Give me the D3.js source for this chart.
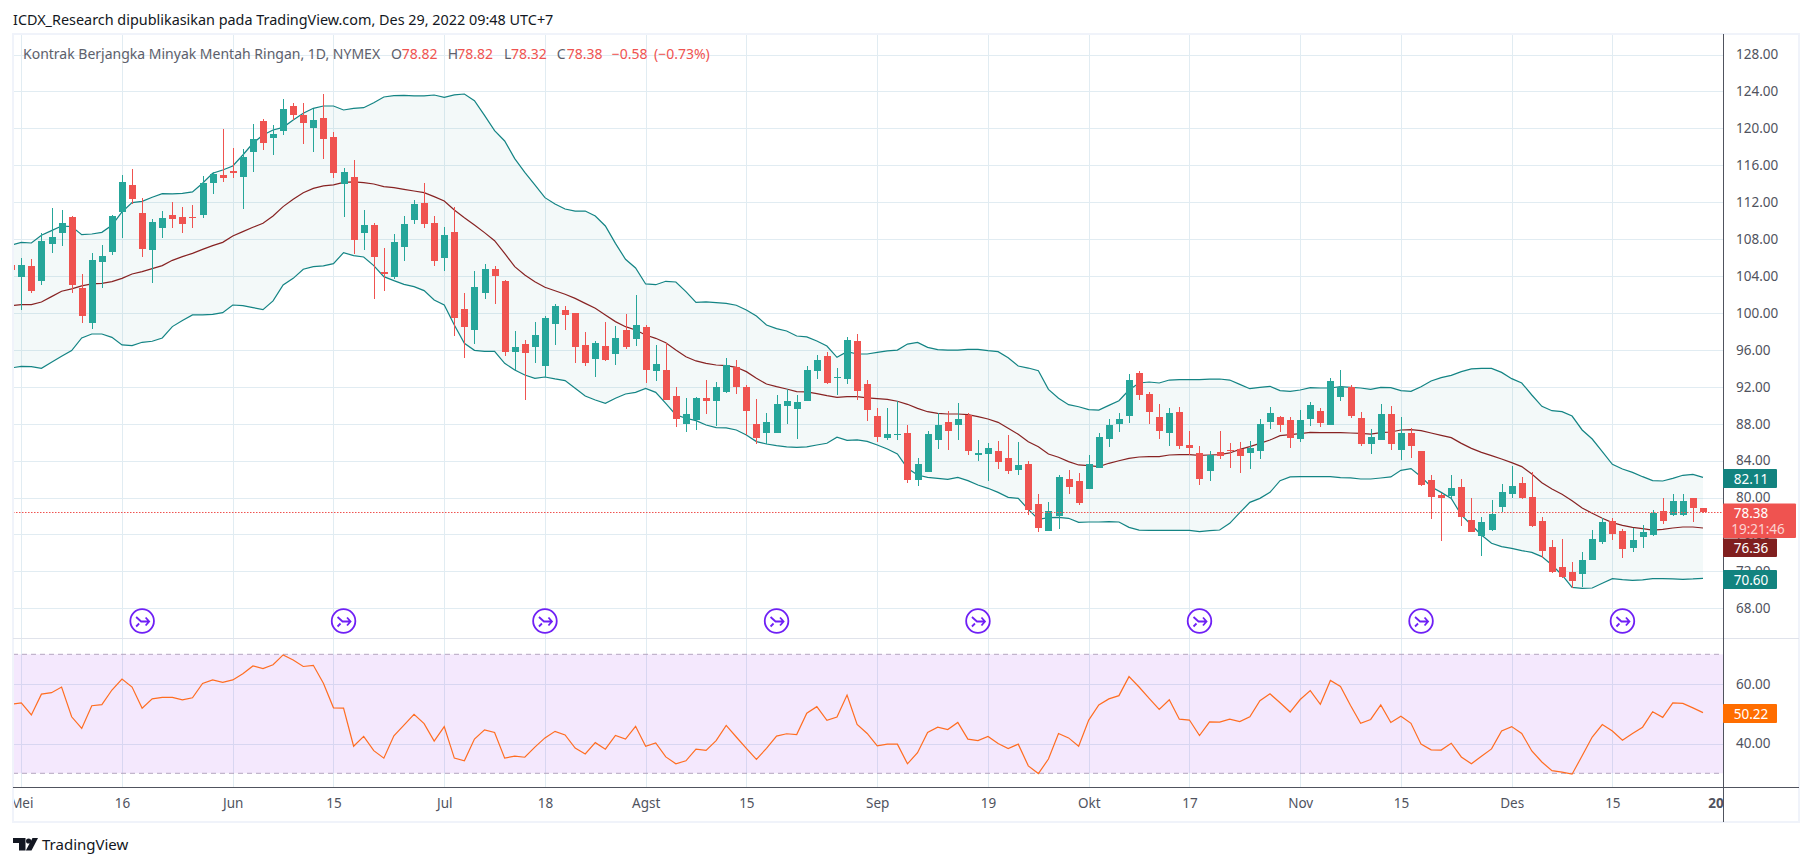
<!DOCTYPE html>
<html>
<head>
<meta charset="utf-8">
<title>Kontrak Berjangka Minyak Mentah Ringan</title>
<script src="https://cdn.jsdelivr.net/npm/d3@7"></script>
<style>
  html, body { margin: 0; padding: 0; background: #fff; }
  svg { display: block; }
  text { font-family: "Noto Sans", sans-serif; }
  .axis text { fill: #50535e; font-size: 13.5px; }
  .axis path, .axis line { display: none; }
  .legend text { font-size: 14px; }
  .badge { fill: #fff; font-size: 13.5px; text-anchor: middle; }
</style>
</head>
<body>
<svg id="chart" width="1813" height="866"></svg>
<script>

var opens = [
  105.20,103.89,105.09,103.46,107.47,108.66,110.40,102.70,98.91,105.52,
  106.60,110.94,113.86,110.83,106.82,109.21,110.61,110.40,110.40,110.61,
  114.08,114.95,115.38,114.73,117.44,120.80,118.96,119.71,122.42,121.45,
  120.04,121.12,119.06,113.97,114.73,108.66,109.53,104.44,103.89,107.15,
  110.07,111.91,109.75,105.95,108.77,100.43,98.15,102.16,104.76,103.46,
  95.77,96.64,96.31,94.25,98.80,100.32,100.00,96.53,95.01,96.42,
  95.55,98.15,97.18,98.48,93.71,93.82,91.00,87.97,88.40,90.79,
  90.46,91.44,94.14,91.98,87.97,87.00,87.00,89.92,89.60,90.46,
  93.71,95.34,92.95,92.85,96.96,92.30,88.84,86.45,86.78,86.99,
  81.90,82.77,86.23,88.18,87.86,88.98,84.61,84.72,85.04,84.28,
  82.98,83.63,79.30,76.38,78.00,82.01,81.79,80.93,83.20,86.34,
  87.97,88.83,93.49,91.22,88.73,86.99,89.27,85.69,84.83,82.88,
  84.93,85.15,85.26,84.83,85.04,88.18,88.73,88.40,86.34,88.51,
  89.38,87.86,90.89,91.98,88.62,85.80,86.23,89.05,85.15,86.99,
  85.04,81.90,80.28,80.17,81.14,77.57,75.83,76.48,78.98,80.38,
  81.58,80.06,77.46,74.64,72.48,71.93,71.72,73.23,75.18,77.46,
  76.38,74.53,75.73,75.94,78.54,78.11,78.11,79.95,78.82
];

var highs = [
  105.20,105.99,105.85,108.63,111.37,111.15,110.50,104.22,106.50,107.36,
  110.61,114.95,115.60,112.46,110.18,111.05,112.02,111.48,111.70,114.84,
  115.27,119.93,117.87,117.76,120.47,121.01,120.36,123.18,122.75,122.75,
  122.10,123.72,119.60,115.70,116.57,111.15,109.75,107.04,108.56,110.50,
  112.24,114.08,110.50,109.32,111.48,102.16,104.55,105.30,105.09,103.57,
  98.04,97.07,99.02,99.67,100.97,100.75,100.00,97.94,96.96,99.02,
  98.59,99.89,101.95,98.70,96.53,96.75,91.98,90.79,90.89,92.74,
  92.52,95.12,94.90,92.19,90.68,89.16,91.11,91.76,91.11,94.25,
  95.45,95.77,94.04,97.39,97.72,92.74,89.71,89.71,90.46,87.86,
  84.28,87.21,89.16,89.38,90.24,89.16,86.23,85.91,86.13,86.78,
  86.02,83.96,80.38,79.52,82.44,82.98,82.66,84.61,86.99,88.51,
  89.16,93.38,93.71,91.43,90.13,89.70,89.81,87.21,85.58,85.04,
  87.21,85.91,86.02,86.13,88.51,89.81,88.83,88.73,89.48,90.35,
  89.70,92.95,93.82,92.19,89.27,87.43,90.13,89.92,88.73,87.53,
  85.04,82.44,80.49,82.44,82.01,79.95,77.89,79.74,81.47,83.42,
  82.23,82.77,77.89,75.40,75.51,73.02,74.10,76.48,77.78,77.78,
  76.59,76.70,77.03,78.65,79.95,80.38,80.38,79.95,78.82
];

var lows = [
  104.65,100.32,102.20,103.03,106.50,107.25,102.16,98.91,98.26,102.70,
  106.28,108.12,111.81,106.06,103.25,108.12,109.21,108.66,109.21,110.29,
  112.89,114.19,114.62,111.26,115.27,117.66,117.11,119.28,120.90,118.31,
  117.44,116.68,114.62,110.40,106.39,106.82,101.51,102.38,103.68,105.63,
  109.64,109.21,105.09,104.55,97.51,95.12,96.64,101.51,100.97,95.34,
  93.82,90.57,94.58,93.10,96.53,98.15,94.58,94.25,93.06,94.79,
  94.36,96.10,96.42,92.41,92.63,90.57,87.65,87.10,87.32,89.05,
  87.75,91.33,91.22,86.78,85.80,85.80,87.00,87.97,86.35,90.46,
  92.85,92.30,91.11,92.30,90.57,88.30,86.02,86.24,86.23,81.58,
  81.25,82.77,85.26,85.15,86.23,84.61,83.96,81.79,83.09,82.55,
  82.44,78.11,76.27,76.38,76.59,80.38,79.19,80.93,83.20,85.48,
  87.10,88.08,90.57,87.97,86.34,85.58,85.26,84.61,81.36,81.79,
  84.18,83.20,82.66,83.09,84.18,87.43,87.10,85.37,86.02,87.75,
  87.64,87.86,90.46,88.62,85.58,84.72,86.23,85.15,84.07,84.28,
  81.25,77.68,75.29,79.95,76.92,76.27,73.67,76.38,78.43,79.95,
  79.84,76.81,73.45,71.83,71.28,70.20,70.31,73.23,74.97,75.40,
  73.45,74.10,74.53,75.83,77.13,78.00,78.00,77.35,78.32
];

var closes = [
  104.65,105.20,102.38,107.80,108.23,109.75,103.03,99.67,105.74,106.17,
  110.50,114.19,112.35,106.93,109.86,110.29,110.18,109.64,110.29,114.08,
  115.06,114.62,115.16,116.90,118.85,118.41,119.39,122.10,121.45,120.58,
  120.90,118.85,115.16,115.27,107.90,109.53,106.06,104.22,107.69,109.64,
  111.81,109.64,105.63,108.45,99.46,98.48,102.81,104.76,104.00,95.77,
  96.31,95.66,97.61,99.45,100.75,99.78,96.31,94.58,96.75,94.90,
  97.29,96.31,98.70,93.82,94.47,90.57,88.51,89.05,90.79,90.46,
  91.98,94.36,91.98,89.38,86.45,88.19,90.14,90.46,90.35,93.82,
  94.90,92.41,93.06,97.07,91.55,89.49,86.56,86.89,86.88,81.90,
  83.63,86.88,87.86,87.21,88.51,85.04,84.83,85.37,83.85,82.88,
  83.53,78.65,76.70,78.54,82.23,81.14,79.41,83.63,86.56,87.86,
  88.51,92.73,91.11,89.27,87.21,89.16,85.58,85.37,82.01,84.61,
  84.50,85.04,84.50,85.37,87.97,89.16,87.86,86.45,88.40,90.03,
  88.08,92.63,92.01,88.83,85.80,86.56,89.05,85.80,86.99,85.58,
  81.36,80.06,79.95,81.03,77.89,76.27,77.35,78.22,80.60,81.25,
  79.95,76.92,74.21,71.93,71.39,70.96,73.23,75.51,77.35,76.05,
  74.43,75.40,76.27,78.33,77.46,79.63,79.63,78.87,78.38
];

// Bollinger bands
var upper = [
  107.36,107.65,107.58,108.41,108.92,109.42,109.35,108.48,108.55,108.73,
  109.49,110.94,111.95,112.09,112.53,112.92,112.89,112.96,113.11,114.05,
  115.13,115.49,115.92,117.11,118.38,119.28,119.82,120.11,120.90,121.63,
  122.17,122.42,122.42,121.99,122.17,122.24,122.78,123.40,123.54,123.58,
  123.51,123.51,123.61,123.36,123.62,123.72,122.99,121.41,119.75,118.63,
  116.72,115.24,113.87,112.49,111.80,111.26,111.04,111.04,110.50,109.42,
  107.54,105.81,104.87,103.14,103.06,103.43,103.35,102.31,101.15,101.19,
  101.11,101.04,100.83,100.32,99.67,98.70,98.30,98.04,97.50,97.40,
  96.96,96.42,95.19,95.81,95.55,95.55,95.73,95.88,95.98,96.63,
  96.81,96.27,96.02,95.98,95.98,96.06,96.06,95.91,95.80,95.15,
  94.25,94.03,93.74,91.72,90.75,90.06,89.84,89.52,89.48,89.99,
  90.49,91.65,92.41,92.52,92.41,92.73,92.77,92.77,92.77,92.84,
  92.84,92.73,92.26,91.79,91.94,92.05,91.58,91.51,91.65,91.90,
  91.87,91.87,92.01,91.94,91.87,91.72,91.94,91.90,91.58,91.51,
  92.01,92.63,92.99,93.24,93.64,93.93,94.00,94.00,93.56,92.88,
  92.41,91.11,89.88,89.41,89.30,88.83,87.32,86.34,84.97,83.60,
  83.09,82.73,82.26,81.83,81.79,82.08,82.41,82.51,82.19
];

var basis = [
  100.79,100.90,100.90,101.19,101.77,102.35,102.60,102.93,103.14,103.21,
  103.39,103.75,104.22,104.48,104.80,105.13,105.70,106.10,106.46,106.89,
  107.29,107.65,108.34,108.81,109.28,109.71,110.50,111.52,112.31,113.03,
  113.50,113.76,113.87,114.15,114.19,114.12,113.97,113.68,113.57,113.39,
  113.21,113.03,112.60,112.13,111.15,110.32,109.53,108.70,107.83,106.46,
  105.01,104.11,103.39,102.78,102.41,102.02,101.58,101.04,100.50,99.78,
  99.06,98.51,98.15,97.61,97.25,96.78,95.99,95.26,94.80,94.54,
  94.36,94.29,94.11,93.64,92.92,92.30,92.01,91.76,91.47,91.44,
  91.26,91.04,90.86,90.93,90.93,90.79,90.71,90.64,90.43,90.10,
  89.66,89.30,89.12,89.05,89.05,88.98,88.76,88.51,88.15,87.50,
  86.85,86.05,85.51,84.72,84.36,83.89,83.53,83.45,83.35,83.71,
  83.99,84.25,84.39,84.43,84.43,84.61,84.65,84.65,84.57,84.61,
  84.65,84.83,85.22,85.51,85.87,86.23,86.70,86.81,86.92,87.06,
  87.03,87.03,87.03,86.99,86.96,86.88,87.03,87.10,87.32,87.35,
  87.25,86.99,86.74,86.49,85.87,85.33,84.90,84.54,84.18,83.78,
  83.35,82.55,81.61,80.93,80.35,79.66,78.87,78.29,77.75,77.28,
  76.99,76.77,76.63,76.48,76.56,76.70,76.81,76.81,76.70
];

var lower = [
  94.04,94.22,94.19,94.00,94.65,95.30,95.92,97.29,97.72,97.72,
  97.36,96.53,96.46,96.82,96.93,97.29,98.52,99.17,99.78,99.78,
  99.85,100.03,100.86,100.79,100.58,100.36,101.30,103.03,103.75,104.73,
  105.02,105.09,105.34,106.53,106.21,106.06,105.13,103.93,103.50,103.10,
  102.85,102.42,101.41,100.86,98.70,96.71,95.95,95.84,95.84,94.54,
  93.82,93.28,92.92,93.06,92.85,92.67,91.83,91.00,90.57,90.21,
  90.75,91.22,91.40,91.83,91.40,90.21,88.95,88.59,88.33,87.86,
  87.57,87.54,87.32,86.78,86.06,85.80,85.62,85.48,85.44,85.48,
  85.69,85.88,86.53,86.20,86.24,86.09,85.69,85.26,84.72,83.16,
  82.44,82.19,82.08,81.97,82.19,81.83,81.36,81.00,80.56,80.02,
  79.91,78.72,77.64,77.82,77.86,77.75,77.31,77.35,77.35,77.39,
  77.35,76.77,76.48,76.45,76.45,76.45,76.45,76.45,76.30,76.41,
  76.48,77.21,78.36,79.48,79.91,80.56,81.83,82.23,82.26,82.26,
  82.26,82.26,82.15,82.12,82.01,82.01,82.12,82.23,82.95,83.13,
  82.26,81.18,80.56,79.91,78.11,77.03,75.94,75.04,74.68,74.50,
  74.25,74.06,73.60,72.69,71.61,70.27,70.16,70.20,70.71,71.21,
  71.10,71.03,71.07,71.21,71.21,71.18,71.14,71.18,71.25
];

var rsi = [
  53.2,53.7,49.6,56.6,57.1,59.0,49.0,45.1,52.7,53.1,
  58.0,61.7,59.0,51.9,55.0,55.5,55.5,54.7,55.4,60.2,
  61.4,60.6,61.4,63.5,66.1,65.2,66.5,69.8,68.1,65.9,
  66.3,60.3,52.0,51.9,39.1,42.4,37.6,35.1,42.6,46.2,
  49.8,46.7,40.8,45.7,35.1,34.2,41.5,44.6,43.7,35.1,
  35.8,35.4,38.8,41.9,44.1,42.9,38.5,36.5,40.3,38.1,
  42.7,41.5,45.8,39.1,40.2,35.5,33.2,34.2,38.1,37.7,
  41.0,46.1,42.2,38.4,34.7,38.4,42.5,43.3,43.0,50.2,
  52.4,47.8,48.9,56.3,46.4,43.4,39.2,39.8,39.8,33.2,
  36.9,43.7,45.5,44.7,47.1,41.5,41.0,42.4,40.0,38.3,
  39.8,32.5,29.9,34.8,43.4,41.9,39.1,47.9,53.0,55.0,
  56.1,62.5,59.0,55.2,51.5,54.7,48.2,47.9,42.7,47.3,
  47.2,48.2,47.4,49.0,54.4,56.7,53.7,50.6,54.8,57.8,
  53.2,61.2,59.2,52.8,46.8,48.1,53.0,47.1,49.2,46.8,
  39.8,37.9,37.8,40.1,35.5,33.2,35.7,38.2,44.2,45.7,
  43.4,37.5,33.8,30.9,30.4,29.7,35.9,42.2,46.4,44.2,
  41.1,43.4,45.5,50.7,48.8,53.7,53.5,52.0,50.4
];

// Time axis: bar index of each label, the last one sits past the last bar
var tickBars = [1, 11, 22, 32, 43, 53, 63, 73, 86, 97, 107, 117, 128, 138, 149, 159, 170];
var tickLabels = ["Mei", "16", "Jun", "15", "Jul", "18", "Agst", "15", "Sep", "19", "Okt", "17", "Nov", "15", "Des", "15", "2023"];

var priceTicks = [128, 124, 120, 116, 112, 108, 104, 100, 96, 92, 88, 84, 80, 76, 72, 68];
var rsiTicks = [60, 40];
var rsiLimits = [70, 30];

// Bars carrying the round "idea" markers under the candles
var markerBars = [13, 33, 53, 76, 96, 118, 140, 160];

var lastClose = 78.38;

var upColor = "#26a69a",
    downColor = "#ef5350",
    gridColor = "#e1ecf2",
    frameColor = "#f0f3fa",
    axisColor = "#50535e",
    bandColor = "#138484",
    basisColor = "#872323",
    rsiColor = "#ff6d21",
    markerColor = "#6f20f5";

// Frame of the widget
var frame = { left: 13, right: 1799, top: 34, bottom: 822 },
    axisX = 1723,
    timeLineY = 787.5,
    paneLineY = 638.5;

var bars = d3.range(opens.length);

var x = d3.scaleLinear()
  .domain([0, 168])
  .range([11.23, 1703]);

var y = d3.scaleLinear()
  .domain([128, 68])
  .range([54.5, 608.3]);

var yRsi = d3.scaleLinear()
  .domain([70, 30])
  .range([654.3, 773.3]);

var svg = d3.select("#chart");

svg.append("rect")
  .attr("width", 1813)
  .attr("height", 866)
  .attr("fill", "#fff");

var defs = svg.append("defs");

defs.append("clipPath")
  .attr("id", "plot-clip")
  .append("rect")
  .attr("x", frame.left + 1)
  .attr("y", frame.top)
  .attr("width", axisX - frame.left - 1)
  .attr("height", frame.bottom - frame.top);

defs.append("clipPath")
  .attr("id", "time-clip")
  .append("rect")
  .attr("x", frame.left + 1)
  .attr("y", timeLineY)
  .attr("width", axisX - frame.left - 1)
  .attr("height", frame.bottom - timeLineY);

// Publisher line
svg.append("text")
  .attr("x", 13)
  .attr("y", 25)
  .attr("fill", "#131722")
  .style("font-size", "14.4px")
  .text("ICDX_Research dipublikasikan pada TradingView.com, Des 29, 2022 09:48 UTC+7");

//** Grid **//

var plot = svg.append("g").attr("clip-path", "url(#plot-clip)");

// Vertical grid runs through both panes
plot.selectAll(".grid-v")
  .data(tickBars)
  .enter().append("line")
  .attr("class", "grid-v")
  .attr("x1", function(d) { return Math.round(x(d)) + 0.5; })
  .attr("x2", function(d) { return Math.round(x(d)) + 0.5; })
  .attr("y1", frame.top)
  .attr("y2", timeLineY)
  .attr("stroke", gridColor);

plot.selectAll(".grid-h")
  .data(priceTicks)
  .enter().append("line")
  .attr("class", "grid-h")
  .attr("x1", frame.left)
  .attr("x2", axisX)
  .attr("y1", function(d) { return Math.round(y(d)) + 0.5; })
  .attr("y2", function(d) { return Math.round(y(d)) + 0.5; })
  .attr("stroke", gridColor);

plot.selectAll(".grid-rsi")
  .data(rsiTicks)
  .enter().append("line")
  .attr("class", "grid-rsi")
  .attr("x1", frame.left)
  .attr("x2", axisX)
  .attr("y1", function(d) { return Math.round(yRsi(d)) + 0.5; })
  .attr("y2", function(d) { return Math.round(yRsi(d)) + 0.5; })
  .attr("stroke", gridColor);

//** Bollinger bands **//

var bandArea = d3.area()
  .x(function(d) { return x(d); })
  .y0(function(d) { return y(lower[d]); })
  .y1(function(d) { return y(upper[d]); });

function seriesLine(values, scale) {
  return d3.line()
    .x(function(d) { return x(d); })
    .y(function(d) { return scale(values[d]); })(bars);
}

plot.append("path")
  .attr("d", bandArea(bars))
  .attr("fill", "rgba(25,135,130,0.05)");

plot.append("path")
  .attr("d", seriesLine(upper, y))
  .attr("fill", "none")
  .attr("stroke", bandColor)
  .attr("stroke-width", 1.2);

plot.append("path")
  .attr("d", seriesLine(lower, y))
  .attr("fill", "none")
  .attr("stroke", bandColor)
  .attr("stroke-width", 1.2);

plot.append("path")
  .attr("d", seriesLine(basis, y))
  .attr("fill", "none")
  .attr("stroke", basisColor)
  .attr("stroke-width", 1.2);

//** Candles **//

function barColor(i) {
  return closes[i] >= opens[i] ? upColor : downColor;
}

plot.selectAll(".wick")
  .data(bars)
  .enter().append("rect")
  .attr("class", "wick")
  .attr("x", function(d) { return Math.round(x(d)); })
  .attr("y", function(d) { return y(highs[d]); })
  .attr("width", 1)
  .attr("height", function(d) { return Math.max(y(lows[d]) - y(highs[d]), 1); })
  .attr("fill", barColor)
  .attr("shape-rendering", "crispEdges");

plot.selectAll(".body")
  .data(bars)
  .enter().append("rect")
  .attr("class", "body")
  .attr("x", function(d) { return Math.round(x(d)) - 3; })
  .attr("y", function(d) { return y(Math.max(opens[d], closes[d])); })
  .attr("width", 7)
  .attr("height", function(d) { return Math.max(Math.abs(y(opens[d]) - y(closes[d])), 1); })
  .attr("fill", barColor)
  .attr("shape-rendering", "crispEdges");

// Last price line
plot.append("line")
  .attr("x1", frame.left)
  .attr("x2", axisX)
  .attr("y1", Math.floor(y(lastClose)) + 0.5)
  .attr("y2", Math.floor(y(lastClose)) + 0.5)
  .attr("stroke", downColor)
  .attr("stroke-dasharray", "1.5 1.5");

//** Idea markers **//

var markers = plot.selectAll(".marker")
  .data(markerBars)
  .enter().append("g")
  .attr("class", "marker")
  .attr("transform", function(d) { return "translate(" + x(d) + ",621)"; })
  .attr("fill", "none")
  .attr("stroke", markerColor)
  .attr("stroke-width", 1.8);

markers.append("circle").attr("r", 11.8).attr("fill", "#fff");
markers.append("path").attr("d", "M-6,-4 L-1,0.5 L7,0.5 M3.5,-3.5 L7,0.5 L3.5,4.5 M-3,2.5 L-6,5.5");

//** RSI pane **//

plot.append("rect")
  .attr("x", frame.left)
  .attr("y", yRsi(rsiLimits[0]))
  .attr("width", axisX - frame.left)
  .attr("height", yRsi(rsiLimits[1]) - yRsi(rsiLimits[0]))
  .attr("fill", "rgba(135,0,235,0.09)");

plot.selectAll(".rsi-limit")
  .data(rsiLimits)
  .enter().append("line")
  .attr("class", "rsi-limit")
  .attr("x1", frame.left)
  .attr("x2", axisX)
  .attr("y1", function(d) { return yRsi(d); })
  .attr("y2", function(d) { return yRsi(d); })
  .attr("stroke", "#b5a6c0")
  .attr("stroke-dasharray", "5 4");

plot.append("path")
  .attr("d", seriesLine(rsi, yRsi))
  .attr("fill", "none")
  .attr("stroke", rsiColor)
  .attr("stroke-width", 1.2);

//** Axes **//

var priceAxis = d3.axisRight(y)
  .tickValues(priceTicks)
  .tickFormat(d3.format(".2f"))
  .tickSize(0)
  .tickPadding(13);

svg.append("g")
  .attr("class", "axis")
  .attr("transform", "translate(" + axisX + ",0)")
  .call(priceAxis);

var rsiAxis = d3.axisRight(yRsi)
  .tickValues(rsiTicks)
  .tickFormat(d3.format(".2f"))
  .tickSize(0)
  .tickPadding(13);

svg.append("g")
  .attr("class", "axis")
  .attr("transform", "translate(" + axisX + ",0)")
  .call(rsiAxis);

var timeAxis = d3.axisBottom(x)
  .tickValues(tickBars)
  .tickFormat(function(d) { return tickLabels[tickBars.indexOf(d)]; })
  .tickSize(0)
  .tickPadding(11);

var timeGroup = svg.append("g")
  .attr("clip-path", "url(#time-clip)")
  .append("g")
  .attr("class", "axis")
  .attr("transform", "translate(0," + timeLineY + ")")
  .call(timeAxis);

// The year label is bold
timeGroup.selectAll("text")
  .style("font-weight", function(d) { return d === 170 ? "700" : null; });

// Frame and axis lines
svg.append("rect")
  .attr("x", frame.left)
  .attr("y", frame.top)
  .attr("width", frame.right - frame.left)
  .attr("height", frame.bottom - frame.top)
  .attr("fill", "none")
  .attr("stroke", frameColor)
  .attr("stroke-width", 2);

svg.append("line")
  .attr("x1", frame.left)
  .attr("x2", frame.right)
  .attr("y1", paneLineY)
  .attr("y2", paneLineY)
  .attr("stroke", "#e0e3eb");

svg.append("line")
  .attr("x1", frame.left)
  .attr("x2", frame.right)
  .attr("y1", timeLineY)
  .attr("y2", timeLineY)
  .attr("stroke", axisColor);

svg.append("line")
  .attr("x1", axisX + 0.5)
  .attr("x2", axisX + 0.5)
  .attr("y1", frame.top)
  .attr("y2", frame.bottom)
  .attr("stroke", axisColor);

//** Value badges on the price scale **//

function makeBadge(yTop, h, w, color, label) {
  svg.append("rect")
    .attr("x", axisX)
    .attr("y", yTop)
    .attr("width", w)
    .attr("height", h)
    .attr("rx", 1)
    .attr("fill", color);
  svg.append("text")
    .attr("class", "badge")
    .attr("x", axisX + 28)
    .attr("y", yTop + h / 2 + 5)
    .text(label);
}

makeBadge(469, 19, 54, "#12837f", "82.11");
makeBadge(538.5, 18.5, 54, "#801f1f", "76.36");
makeBadge(570, 19, 54, "#12837f", "70.60");
makeBadge(704, 19, 54, "#ff6d00", "50.22");

svg.append("rect")
  .attr("x", axisX)
  .attr("y", 503.5)
  .attr("width", 73)
  .attr("height", 34.5)
  .attr("rx", 1)
  .attr("fill", downColor);

svg.append("text")
  .attr("class", "badge")
  .attr("x", axisX + 28)
  .attr("y", 518)
  .text("78.38");

svg.append("text")
  .attr("class", "badge")
  .attr("x", axisX + 35)
  .attr("y", 534)
  .attr("fill-opacity", 0.75)
  .text("19:21:46");

//** Legend **//

var legendX = [23, 391, 401.7, 447.7, 457.3, 504, 511, 556.7, 566.7, 611.7, 654];
var legendTexts = ["Kontrak Berjangka Minyak Mentah Ringan, 1D, NYMEX", "O", "78.82", "H", "78.82", "L", "78.32", "C", "78.38", "\u22120.58", "(\u22120.73%)"];
var legendColors = ["#5d606b", "#5d606b", downColor, "#5d606b", downColor, "#5d606b", downColor, "#5d606b", downColor, downColor, downColor];

svg.append("g")
  .attr("class", "legend")
  .selectAll("text")
  .data(legendTexts)
  .enter().append("text")
  .attr("x", function(d, i) { return legendX[i]; })
  .attr("y", 59)
  .attr("fill", function(d, i) { return legendColors[i]; })
  .text(function(d) { return d; });

//** TradingView logo **//

var logo = svg.append("g").attr("fill", "#131722");

logo.append("path").attr("d", "M13,838 H25.5 V850.5 H19 V843 H13 Z");
logo.append("circle").attr("cx", 28.6).attr("cy", 841).attr("r", 2.6);
logo.append("path").attr("d", "M32.5,838 H38 L31.5,850.5 H25.8 Z");

svg.append("text")
  .attr("x", 42)
  .attr("y", 850)
  .attr("fill", "#131722")
  .style("font-size", "15px")
  .text("TradingView");

</script>
</body>
</html>
